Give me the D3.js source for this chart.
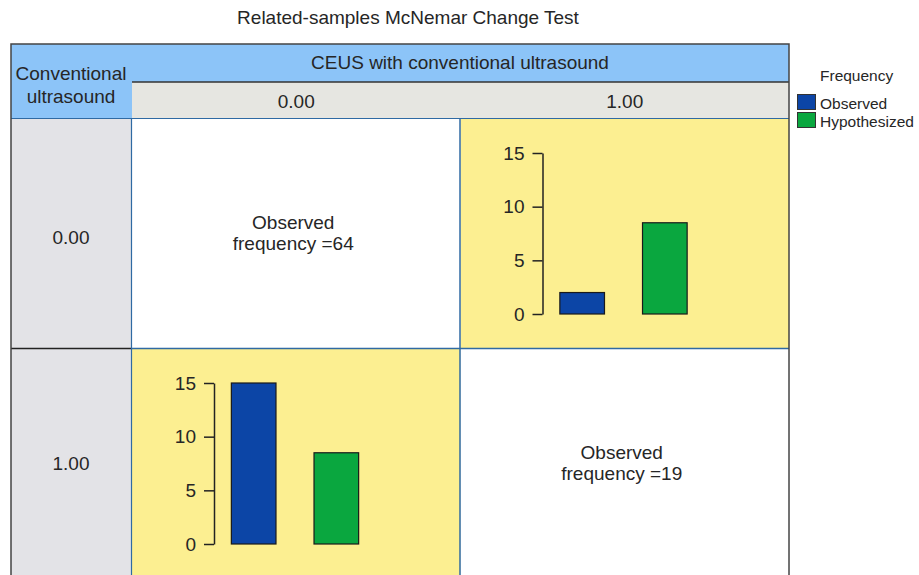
<!DOCTYPE html>
<html>
<head>
<meta charset="utf-8">
<script src="https://cdn.jsdelivr.net/npm/d3@7"></script>
<style>
  body { margin: 0; background: #fff; }
  svg { display: block; font-family: "Liberation Sans", Arial, Helvetica, sans-serif; }
</style>
</head>
<body>
<div id="chart"></div>
<script>
const chartTitle = 'Related-samples McNemar Change Test'
const colTitle = 'CEUS with conventional ultrasound'
const rowTitle = ['Conventional', 'ultrasound']
const colValues = ['0.00', '1.00']
const rowValues = ['0.00', '1.00']
const seriesNames = ['Observed', 'Hypothesized']
// observed counts [row][col]
const observedCounts = [[64, 2], [15, 19]]
// hypothesized counts for the off-diagonal cells
const hypothesizedCounts = [[null, 8.5], [8.5, null]]
const yTicks = [0, 5, 10, 15]

const width = 919
const height = 575
const colors = { Observed: '#0c45a6', Hypothesized: '#0aa73f' }
const textColor = '#262626'
const fontSize = 19

const svg = d3.select('#chart')
  .append('svg')
  .attr('width', width)
  .attr('height', height)

const frame = { left: 11, top: 44, right: 789, bottom: 579 }
const headerBottom = 82
const subHeaderBottom = 118
const rowHeaderRight = 131

const colScale = d3.scaleBand().domain(colValues).range([rowHeaderRight + 1, frame.right])
const rowScale = d3.scaleBand().domain(rowValues).range([subHeaderBottom + 1, frame.bottom])

svg.append('text')
  .attr('x', 408)
  .attr('y', 24)
  .attr('text-anchor', 'middle')
  .attr('font-size', fontSize)
  .attr('fill', textColor)
  .text(chartTitle)

// header backgrounds
svg.append('rect')
  .attr('x', frame.left).attr('y', frame.top)
  .attr('width', frame.right - frame.left).attr('height', subHeaderBottom - frame.top)
  .attr('fill', '#8cc4f8')
svg.append('rect')
  .attr('x', rowHeaderRight + 1).attr('y', headerBottom)
  .attr('width', frame.right - rowHeaderRight - 1).attr('height', subHeaderBottom - headerBottom)
  .attr('fill', '#e6e6e1')
svg.append('rect')
  .attr('x', frame.left).attr('y', subHeaderBottom)
  .attr('width', rowHeaderRight - frame.left).attr('height', frame.bottom - subHeaderBottom)
  .attr('fill', '#e3e3e7')

// cells
const cells = []
rowValues.forEach((r, i) => {
  colValues.forEach((c, j) => {
    cells.push({ row: r, col: c, i, j, observed: observedCounts[i][j], hypothesized: hypothesizedCounts[i][j] })
  })
})

const cellG = svg.append('g')
  .selectAll('g')
  .data(cells)
  .enter()
  .append('g')
  .attr('transform', d => `translate(${colScale(d.col)}, ${rowScale(d.row)})`)

cellG.append('rect')
  .attr('width', colScale.bandwidth())
  .attr('height', rowScale.bandwidth())
  .attr('fill', d => d.hypothesized === null ? '#ffffff' : '#fcef91')

// grid lines
const gridColor = '#2f6aa3'
svg.append('line')
  .attr('x1', colScale('1.00') - 0.5).attr('x2', colScale('1.00') - 0.5)
  .attr('y1', subHeaderBottom).attr('y2', frame.bottom)
  .attr('stroke', gridColor).attr('stroke-width', 1.5)
svg.append('line')
  .attr('x1', rowHeaderRight).attr('x2', frame.right)
  .attr('y1', rowScale('1.00') - 0.5).attr('y2', rowScale('1.00') - 0.5)
  .attr('stroke', gridColor).attr('stroke-width', 1.5)
svg.append('line')
  .attr('x1', frame.left).attr('x2', rowHeaderRight)
  .attr('y1', rowScale('1.00') - 0.5).attr('y2', rowScale('1.00') - 0.5)
  .attr('stroke', '#222').attr('stroke-width', 1.5)
svg.append('line')
  .attr('x1', rowHeaderRight + 0.5).attr('x2', rowHeaderRight + 0.5)
  .attr('y1', subHeaderBottom).attr('y2', frame.bottom)
  .attr('stroke', gridColor).attr('stroke-width', 1.2)
svg.append('line')
  .attr('x1', frame.left).attr('x2', frame.right)
  .attr('y1', subHeaderBottom + 0.5).attr('y2', subHeaderBottom + 0.5)
  .attr('stroke', gridColor).attr('stroke-width', 1.2)
svg.append('line')
  .attr('x1', rowHeaderRight + 1).attr('x2', frame.right)
  .attr('y1', headerBottom).attr('y2', headerBottom)
  .attr('stroke', '#333').attr('stroke-width', 1.5)

// outer frame
svg.append('rect')
  .attr('x', frame.left).attr('y', frame.top)
  .attr('width', frame.right - frame.left).attr('height', frame.bottom - frame.top)
  .attr('fill', 'none')
  .attr('stroke', '#444')
  .attr('stroke-width', 1.5)

// header texts
svg.append('text')
  .attr('x', (rowHeaderRight + frame.right) / 2)
  .attr('y', 69)
  .attr('text-anchor', 'middle')
  .attr('font-size', fontSize)
  .attr('fill', textColor)
  .text(colTitle)

svg.append('g')
  .selectAll('text')
  .data(rowTitle)
  .enter()
  .append('text')
  .attr('x', (frame.left + rowHeaderRight) / 2)
  .attr('y', (d, i) => 80 + i * 23)
  .attr('text-anchor', 'middle')
  .attr('font-size', fontSize)
  .attr('fill', textColor)
  .text(d => d)

svg.append('g')
  .selectAll('text')
  .data(colValues)
  .enter()
  .append('text')
  .attr('x', d => colScale(d) + colScale.bandwidth() / 2)
  .attr('y', 108)
  .attr('text-anchor', 'middle')
  .attr('font-size', fontSize)
  .attr('fill', textColor)
  .text(d => d)

// row labels sit near the middle of the visible part of each row
svg.append('g')
  .selectAll('text')
  .data(rowValues)
  .enter()
  .append('text')
  .attr('x', (frame.left + rowHeaderRight) / 2)
  .attr('y', (d, i) => rowScale(d) + (i === 0 ? 125 : 121))
  .attr('text-anchor', 'middle')
  .attr('font-size', fontSize)
  .attr('fill', textColor)
  .text(d => d)

// diagonal cells: observed frequency text
const textCells = cellG.filter(d => d.hypothesized === null)
textCells.append('text')
  .attr('x', colScale.bandwidth() / 2 - 3)
  .attr('y', 110)
  .attr('text-anchor', 'middle')
  .attr('font-size', fontSize)
  .attr('fill', textColor)
  .text('Observed')
textCells.append('text')
  .attr('x', colScale.bandwidth() / 2 - 3)
  .attr('y', 131)
  .attr('text-anchor', 'middle')
  .attr('font-size', fontSize)
  .attr('fill', textColor)
  .text(d => `frequency =${d.observed}`)

// off-diagonal cells: mini bar charts
const yScaler = d3.scaleLinear().domain([0, 15]).range([195, 34])
const xScaler = d3.scaleBand().domain(seriesNames).range([0, 162]).paddingInner(0.46).paddingOuter(0.21)
const axisX = 82

const barCells = cellG.filter(d => d.hypothesized !== null)

barCells.append('g')
  .attr('transform', `translate(${axisX}, 0)`)
  .call(d3.axisLeft(yScaler).tickValues(yTicks).tickSize(10).tickSizeOuter(0).tickPadding(8))
  .call(g => {
    g.select('.domain').attr('stroke', '#222').attr('stroke-width', 1.5)
    g.selectAll('.tick line').attr('stroke', '#222').attr('stroke-width', 1.5)
    g.selectAll('.tick text')
      .attr('font-size', fontSize)
      .attr('font-family', '"Liberation Sans", Arial, Helvetica, sans-serif')
      .attr('fill', textColor)
  })

barCells.append('g')
  .attr('transform', `translate(${axisX}, 0)`)
  .selectAll('rect')
  .data(d => seriesNames.map(s => ({ key: s, value: s === 'Observed' ? d.observed : d.hypothesized })))
  .enter()
  .append('rect')
  .attr('x', d => xScaler(d.key))
  .attr('y', d => yScaler(d.value))
  .attr('width', xScaler.bandwidth())
  .attr('height', d => yScaler(0) - yScaler(d.value))
  .attr('fill', d => colors[d.key])
  .attr('stroke', '#1a1a1a')
  .attr('stroke-width', 1.2)

// legend
const legend = svg.append('g').attr('transform', 'translate(797, 0)')
legend.append('text')
  .attr('x', 23)
  .attr('y', 81)
  .attr('font-size', 15.5)
  .attr('fill', textColor)
  .text('Frequency')

const legendItems = legend.selectAll('.legend-item')
  .data(seriesNames)
  .enter()
  .append('g')
  .classed('legend-item', true)
  .attr('transform', (d, i) => `translate(0, ${94 + i * 18})`)

legendItems.append('rect')
  .attr('x', 0.5)
  .attr('y', 0.5)
  .attr('width', 18)
  .attr('height', 15)
  .attr('fill', d => colors[d])
  .attr('stroke', '#333')
  .attr('stroke-width', 1)

legendItems.append('text')
  .attr('x', 23)
  .attr('y', 15)
  .attr('font-size', 15.5)
  .attr('fill', textColor)
  .text(d => d)
</script>
</body>
</html>
